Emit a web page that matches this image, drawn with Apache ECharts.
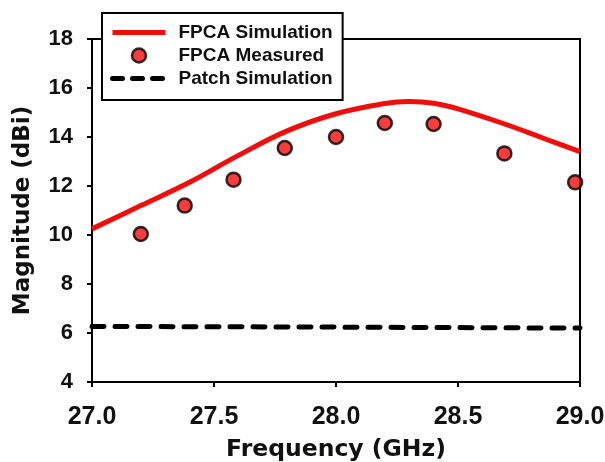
<!DOCTYPE html>
<html><head><meta charset="utf-8">
<script src="https://cdn.jsdelivr.net/npm/echarts@6/dist/echarts.min.js"></script>
<style>html,body{margin:0;padding:0;background:#fff}#c{width:605px;height:462px}</style>
</head><body><div id="c"></div>
<script>
const simFreq = [27.0, 27.2, 27.4, 27.6, 27.8, 28.0, 28.2, 28.3, 28.4, 28.5, 28.7, 28.85, 29.0];
const simGain = [10.25, 11.2, 12.15, 13.25, 14.25, 14.95, 15.37, 15.45, 15.38, 15.15, 14.5, 13.95, 13.4];
const measFreq = [27.2, 27.38, 27.58, 27.79, 28.0, 28.2, 28.4, 28.69, 28.98];
const measGain = [10.04, 11.2, 12.26, 13.55, 14.0, 14.57, 14.53, 13.33, 12.15];
const patchFreq = [27.0, 28.0, 29.0];
const patchGain = [6.27, 6.24, 6.2];
const xTicks = [27.0, 27.5, 28.0, 28.5, 29.0];
const yTicks = [4, 6, 8, 10, 12, 14, 16, 18];
const seriesNames = ['FPCA Simulation', 'FPCA Measured', 'Patch Simulation'];

const zip = (a, b) => a.map((v, i) => [v, b[i]]);
const font = 'Liberation Sans, Arial, sans-serif';
const nameFont = 'DejaVu Sans, sans-serif';
const RED = '#f20d0d';
const hidden = {color: 'transparent', borderColor: 'transparent', borderWidth: 0, opacity: 0};
const chart = echarts.init(document.getElementById('c'), null, {renderer: 'canvas'});
chart.setOption({
  animation: false,
  backgroundColor: '#fff',
  grid: {left: 92, right: 25, top: 39, bottom: 80, show: true, borderColor: '#000', borderWidth: 2, backgroundColor: 'transparent',
    containLabel: false, outerBoundsMode: 'none'},
  legend: {
    orient: 'vertical', left: 102, top: 13, backgroundColor: '#fff', borderColor: '#000', borderWidth: 2,
    padding: [10, 10, 12, 8], itemGap: 4, itemWidth: 53, itemHeight: 14,
    textStyle: {fontFamily: font, fontWeight: 'bold', fontSize: 19, lineHeight: 19, color: '#111', padding: [0, 0, 0, 8]},
    data: [
      {name: seriesNames[0], itemStyle: hidden, lineStyle: {width: 5, color: RED}},
      {name: seriesNames[1], itemStyle: {borderWidth: 2.5, borderColor: '#000', color: RED}},
      {name: seriesNames[2], itemStyle: hidden, lineStyle: {width: 5, color: '#000', type: [10, 10], cap: 'round'}}
    ]
  },
  xAxis: {
    type: 'value', min: 27.0, max: 29.0, interval: 0.5,
    name: 'Frequency (GHz)', nameLocation: 'middle', nameGap: 56,
    nameTextStyle: {fontFamily: nameFont, fontWeight: 'bold', fontSize: 23.5, color: '#111'},
    axisLine: {show: true, lineStyle: {color: '#000', width: 2}},
    axisTick: {show: true, inside: false, length: 5, lineStyle: {color: '#000', width: 2}},
    axisLabel: {fontFamily: font, fontWeight: 'bold', fontSize: 25, color: '#111', margin: 23,
      formatter: v => xTicks.includes(v) ? v.toFixed(1) : ''},
    splitLine: {show: false}
  },
  yAxis: {
    type: 'value', min: 4, max: 18, interval: 2,
    name: 'Magnitude (dBi)', nameLocation: 'middle', nameGap: 57,
    nameTextStyle: {fontFamily: nameFont, fontWeight: 'bold', fontSize: 23, color: '#111'},
    axisLine: {show: true, lineStyle: {color: '#000', width: 2}},
    axisTick: {show: true, inside: false, length: 5, lineStyle: {color: '#000', width: 2}},
    axisLabel: {fontFamily: font, fontWeight: 'bold', fontSize: 22, color: '#111', margin: 19,
      formatter: v => yTicks.includes(v) ? String(v) : ''},
    splitLine: {show: false}
  },
  series: [
    {name: seriesNames[0], type: 'line', data: zip(simFreq, simGain), smooth: 0.4, showSymbol: false, symbol: 'none',
      lineStyle: {color: RED, width: 5}, itemStyle: {color: RED}, z: 3},
    {name: seriesNames[1], type: 'scatter', data: zip(measFreq, measGain), symbol: 'circle', symbolSize: 14,
      itemStyle: {color: RED, borderColor: '#000', borderWidth: 2.5}, z: 4},
    {name: seriesNames[2], type: 'line', data: zip(patchFreq, patchGain), showSymbol: false, symbol: 'none',
      lineStyle: {color: '#000', width: 5, type: [12, 11], cap: 'round'}, itemStyle: {color: '#000'}, z: 3}
  ]
});
</script></body></html>
